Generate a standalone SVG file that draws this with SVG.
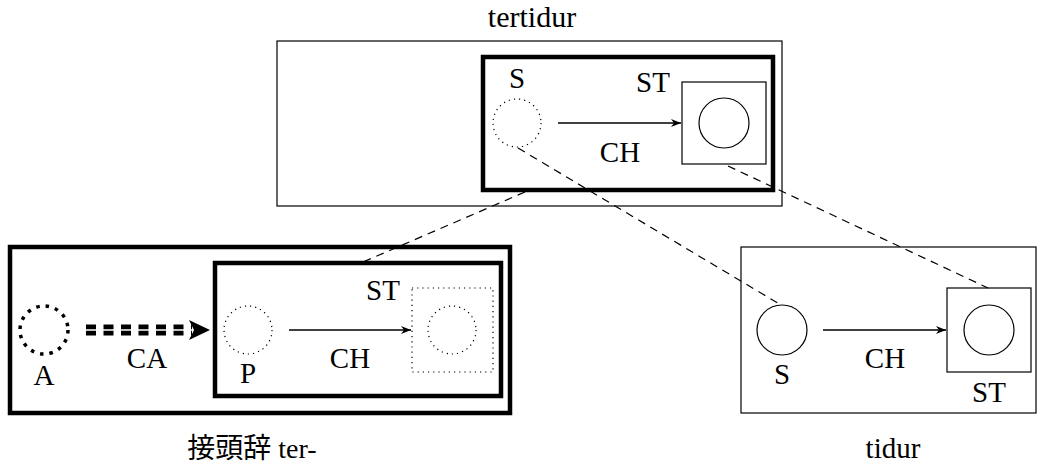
<svg xmlns="http://www.w3.org/2000/svg" width="1037" height="465" viewBox="0 0 1037 465">
<defs>
<style>
text{font-family:"Liberation Serif","Noto Sans CJK JP",serif;font-size:29px;fill:#000;text-anchor:middle}
.thin{fill:none;stroke:#000;stroke-width:1.2}
.thick{fill:none;stroke:#000;stroke-width:4.5}
.dot{fill:none;stroke:#000;stroke-width:1.2;stroke-dasharray:1.2 4}
.dash{fill:none;stroke:#000;stroke-width:1.2;stroke-dasharray:8 6}
.arr{fill:none;stroke:#000;stroke-width:1.3}
</style>
<marker id="ah" viewBox="0 0 10 10" refX="10" refY="5" markerWidth="10" markerHeight="10" markerUnits="userSpaceOnUse" orient="auto">
<path d="M0,1 L10,5 L0,9 L3,5 Z" fill="#000"/>
</marker>
</defs>
<g id="tertidur">
<rect class="thin" x="277" y="41" width="505" height="165"/>
<rect class="thick" x="483" y="57" width="290" height="133"/>
<circle class="dot" cx="517" cy="123" r="24"/>
<rect class="thin" x="682" y="82" width="84" height="82"/>
<circle class="thin" cx="724" cy="123" r="25"/>
<text x="517" y="88">S</text>
<text x="653" y="92">ST</text>
<text x="620" y="162">CH</text>
<text x="532" y="27" style="font-size:30px">tertidur</text>
</g>
<g id="prefix-ter">
<rect class="thick" x="10" y="247" width="500" height="166"/>
<rect class="thick" x="215" y="263" width="286" height="133"/>
<circle cx="44" cy="330" r="24" fill="none" stroke="#000" stroke-width="3.5" stroke-dasharray="3.5 6"/>
<circle class="dot" cx="248" cy="330" r="24"/>
<rect class="dot" x="412" y="288" width="81" height="84"/>
<circle class="dot" cx="452" cy="330" r="24"/>
<text x="44" y="385">A</text>
<text x="147" y="368">CA</text>
<text x="248" y="383">P</text>
<text x="383" y="300">ST</text>
<text x="350" y="368">CH</text>
<text x="252" y="458" style="font-size:28px">接頭辞 ter-</text>
</g>
<g id="tidur">
<rect class="thin" x="741" y="247" width="295" height="166"/>
<circle class="thin" cx="782" cy="330" r="25"/>
<rect class="thin" x="947" y="288" width="84" height="84"/>
<circle class="thin" cx="989" cy="330" r="25"/>
<text x="782" y="384">S</text>
<text x="885" y="368">CH</text>
<text x="989" y="402">ST</text>
<text x="893" y="458">tidur</text>
</g>
<g id="connectors">
<line class="arr" x1="558" y1="123" x2="681" y2="123" marker-end="url(#ah)"/>
<line class="arr" x1="289" y1="330" x2="411" y2="330" marker-end="url(#ah)"/>
<line class="arr" x1="823" y1="330" x2="946" y2="330" marker-end="url(#ah)"/>
<line x1="86" y1="330" x2="192" y2="330" stroke="#000" stroke-width="11" stroke-dasharray="10 7.5"/>
<line x1="86" y1="330" x2="192" y2="330" stroke="#fff" stroke-width="1.6"/>
<path d="M189,320 L210,330 L189,340 L194,330 Z" fill="#000"/>
<line class="dash" x1="518" y1="148" x2="781" y2="305"/>
<line class="dash" x1="728" y1="166" x2="988" y2="288"/>
<line class="dash" x1="525" y1="192" x2="363" y2="262"/>
</g>
</svg>
